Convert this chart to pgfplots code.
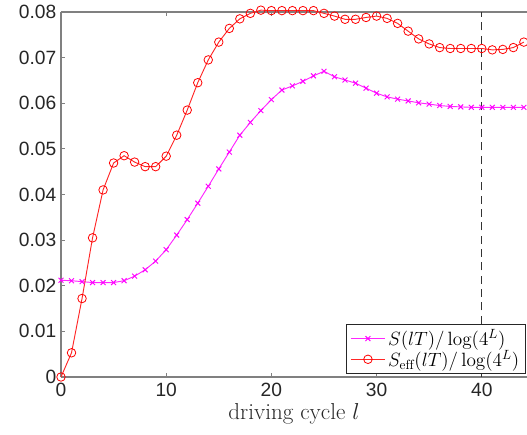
\documentclass[border=0pt]{standalone}
\usepackage{pgfplots}
\pgfplotsset{compat=1.18}
\usepackage{pgfplotstable}
\usepackage{fontspec}
\newfontfamily\helv{Liberation Sans}
\usetikzlibrary{calc}

\definecolor{mag}{RGB}{255,0,255}
\definecolor{ticktext}{RGB}{38,38,38}
\definecolor{spine}{RGB}{128,128,128}

% l, S(lT)/log(4^L), Seff(lT)/log(4^L)
\pgfplotstableread{
l   S       Seff
0   0.0212  0.0000
1   0.0211  0.0053
2   0.0209  0.0172
3   0.0207  0.0305
4   0.0207  0.0410
5   0.0207  0.0469
6   0.0211  0.0485
7   0.0221  0.0471
8   0.0235  0.0461
9   0.0254  0.0461
10  0.0279  0.0484
11  0.0311  0.0530
12  0.0345  0.0585
13  0.0381  0.0645
14  0.0418  0.0695
15  0.0456  0.0734
16  0.0493  0.0764
17  0.0530  0.0785
18  0.0558  0.0797
19  0.0584  0.0804
20  0.0608  0.0803
21  0.0629  0.0803
22  0.0638  0.0803
23  0.0648  0.0803
24  0.0660  0.0803
25  0.0670  0.0797
26  0.0658  0.0791
27  0.0651  0.0784
28  0.0644  0.0784
29  0.0633  0.0788
30  0.0622  0.0791
31  0.0614  0.0786
32  0.0609  0.0775
33  0.0605  0.0758
34  0.0601  0.0741
35  0.0598  0.0730
36  0.0595  0.0722
37  0.0593  0.0720
38  0.0592  0.0720
39  0.0591  0.0720
40  0.0591  0.0720
41  0.0591  0.0717
42  0.0591  0.0718
43  0.0591  0.0722
44  0.0591  0.0734
}\entropy

\begin{document}
\begin{tikzpicture}
\begin{axis}[
    name=ax,
    scale only axis,
    width=349.5pt,
    height=273.75pt,
    xmin=0, xmax=44.3,
    ymin=0, ymax=0.08,
    axis x line*=box,
    axis y line*=left,
    axis line style={spine, line width=0.8pt},
    tick align=inside,
    major tick length=3pt,
    tick style={spine, line width=0.6pt},
    xtick={0,10,20,30,40},
    ytick={0,0.01,0.02,0.03,0.04,0.05,0.06,0.07,0.08},
    scaled y ticks=false,
    yticklabel style={/pgf/number format/fixed, /pgf/number format/precision=2},
    ticklabel style={font=\helv\fontsize{14.4}{16}\selectfont, text=ticktext,
        /pgf/number format/assume math mode=true},
    xticklabel style={yshift=-1pt},
    xlabel={driving cycle $l$},
    xlabel style={font=\fontsize{17.28}{20}\selectfont, text=ticktext, yshift=2pt},
    clip=false,
    legend cell align=left,
    legend style={at={(rel axis cs:0.6116,0.008)}, anchor=south west,
        draw=ticktext, line width=0.6pt, fill=white,
        font=\fontsize{14.4}{17}\selectfont, row sep=-2pt,
        inner xsep=3pt, inner ysep=2pt},
    legend image code/.code={
        \draw[mark repeat=2, mark phase=2] plot coordinates {(0cm,0cm) (0.45cm,0cm) (0.9cm,0cm)};
    },
]
\addplot[dashed, dash pattern=on 6pt off 4pt, black!80, line width=0.8pt, forget plot]
    coordinates {(40,0) (40,0.08)};
\addplot[mag!85!white, line width=0.7pt, mark=x, mark size=2.6pt,
    mark options={mag, line width=0.7pt}] table[x=l, y=S] {\entropy};
\addlegendentry{$S(lT)/\log(4^L)$}
\addplot[red!85!white, line width=0.7pt, mark=o, mark size=3.2pt,
    mark options={red, line width=0.6pt}] table[x=l, y=Seff] {\entropy};
\addlegendentry{$S_{\mathrm{eff}}(lT)/\log(4^L)$}
\end{axis}
\pgfresetboundingbox
\path[use as bounding box] ($(ax.south west)+(-45.75pt,-43.5pt)$) rectangle ($(ax.north east)+(0pt,9pt)$);
\end{tikzpicture}
\end{document}
